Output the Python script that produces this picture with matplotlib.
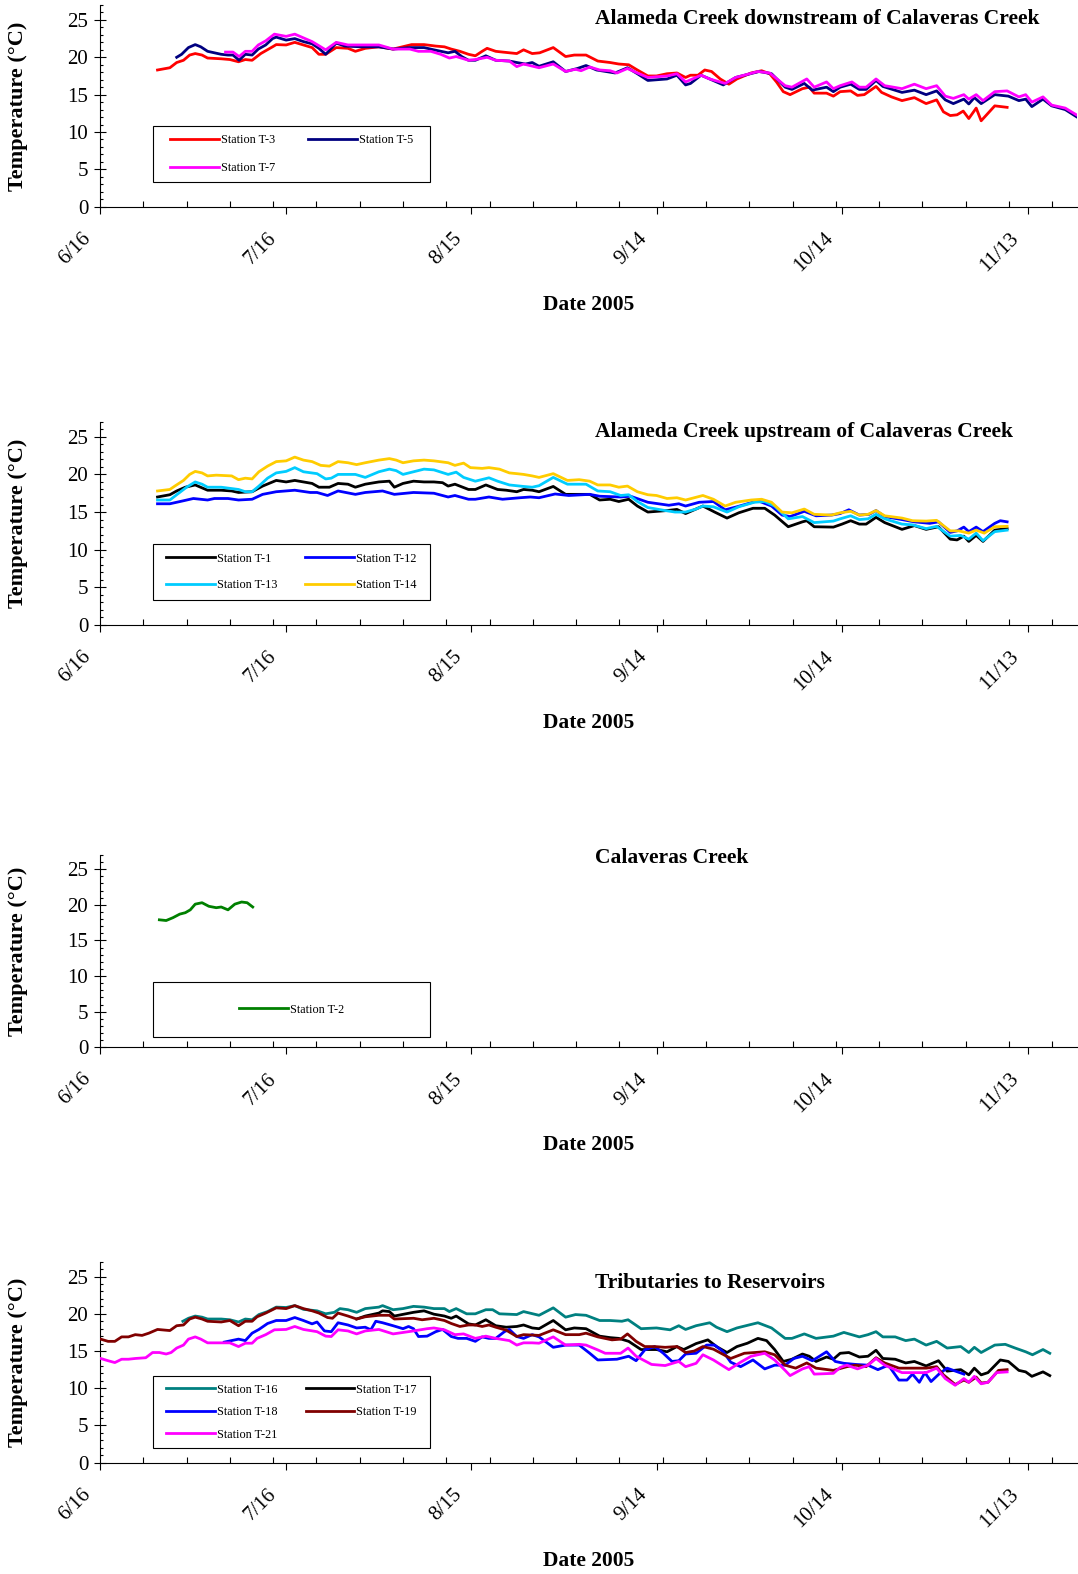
import datetime as dt
import matplotlib
matplotlib.use("Agg")
import matplotlib.pyplot as plt
from matplotlib.patches import Rectangle
from matplotlib.ticker import FixedLocator, MultipleLocator
from matplotlib.transforms import ScaledTranslation

plt.rcParams['font.family'] = 'serif'
plt.rcParams['font.serif'] = ['Liberation Serif', 'DejaVu Serif']

# day offsets from 6/16/2005, temperature in deg C
start_date = dt.date(2005, 6, 16)
major_days = [0, 30, 60, 90, 120, 150]

# --- Alameda Creek downstream of Calaveras Creek ---
t3 = [(9.3, 18.3), (11.3, 18.6), (12.4, 19.3), (13.5, 19.6), (14.5, 20.3), (15.4, 20.5), (16.5, 20.3),
      (17.4, 19.9), (19.6, 19.8), (21.0, 19.7), (22.4, 19.4), (23.5, 19.7), (24.6, 19.6), (26.0, 20.5),
      (27.9, 21.4), (28.5, 21.7), (30.1, 21.65), (31.5, 22.0), (32.9, 21.65), (34.3, 21.3), (35.4, 20.4),
      (36.5, 20.4), (38.2, 21.3), (40.1, 21.2), (41.3, 20.8), (42.9, 21.2), (45.1, 21.4), (47.4, 21.1),
      (50.4, 21.7), (52.4, 21.7), (54.3, 21.5), (55.7, 21.4), (56.8, 21.1), (58.2, 20.8), (59.6, 20.4),
      (60.7, 20.2), (61.8, 20.8), (62.6, 21.2), (64.0, 20.8), (65.1, 20.7), (67.4, 20.5), (68.5, 21.0),
      (69.9, 20.5), (71.1, 20.6), (73.3, 21.3), (75.3, 20.1), (76.7, 20.3), (78.6, 20.3), (80.5, 19.5),
      (82.5, 19.3), (83.9, 19.1), (85.5, 19.0), (86.9, 18.3), (88.6, 17.5), (90.0, 17.5), (91.7, 17.8),
      (93.3, 17.9), (94.7, 17.3), (95.5, 17.6), (96.7, 17.6), (97.8, 18.3), (98.9, 18.1), (100.3, 17.1),
      (101.7, 16.4), (103.0, 17.1), (105.3, 17.9), (107.0, 18.2), (108.3, 17.8), (109.4, 16.7), (110.5, 15.4),
      (111.6, 15.0), (113.6, 15.8), (114.7, 16.0), (115.5, 15.2), (117.5, 15.2), (118.6, 14.8), (119.7, 15.4),
      (121.4, 15.5), (122.5, 14.9), (123.6, 15.0), (125.5, 16.1), (126.4, 15.3), (128.0, 14.7), (129.7, 14.2),
      (131.7, 14.6), (133.6, 13.8), (135.3, 14.3), (136.4, 12.7), (137.5, 12.2), (138.6, 12.3), (139.6, 12.8),
      (140.5, 11.8), (141.7, 13.2), (142.5, 11.5), (144.7, 13.5), (146.7, 13.3)]
t5 = [(12.4, 20.0), (13.2, 20.4), (14.3, 21.3), (15.4, 21.7), (16.3, 21.4), (17.4, 20.8), (18.5, 20.6),
      (19.6, 20.4), (20.7, 20.3), (21.5, 20.3), (22.5, 19.6), (23.5, 20.4), (24.6, 20.3), (25.6, 21.1),
      (26.8, 21.65), (27.9, 22.5), (28.5, 22.7), (30.1, 22.3), (31.5, 22.5), (32.9, 22.1), (34.3, 21.8),
      (35.4, 21.2), (36.5, 20.4), (38.2, 21.9), (39.6, 21.5), (42.4, 21.4), (45.1, 21.4), (47.4, 21.1),
      (50.1, 21.3), (52.4, 21.3), (54.0, 21.0), (56.3, 20.6), (57.4, 20.8), (58.5, 20.1), (59.6, 19.6),
      (60.7, 19.6), (62.4, 20.2), (64.0, 19.6), (66.2, 19.5), (67.4, 19.3), (68.8, 19.1), (69.9, 19.3),
      (71.0, 18.8), (73.3, 19.4), (75.3, 18.1), (77.2, 18.5), (78.6, 18.9), (80.3, 18.3), (83.3, 17.9),
      (85.3, 18.6), (86.9, 17.8), (88.6, 16.9), (91.7, 17.1), (93.3, 17.6), (94.7, 16.3), (95.5, 16.5),
      (97.2, 17.6), (98.6, 17.1), (100.8, 16.3), (102.8, 17.3), (106.6, 18.1), (108.6, 17.8), (110.8, 16.0),
      (111.9, 15.7), (113.9, 16.5), (115.2, 15.6), (117.5, 16.0), (118.6, 15.4), (119.7, 16.0), (121.4, 16.4),
      (122.8, 15.7), (123.9, 15.7), (125.5, 16.9), (126.6, 16.1), (129.7, 15.3), (131.7, 15.6), (133.6, 15.0),
      (135.3, 15.5), (136.7, 14.3), (138.0, 13.8), (139.7, 14.4), (140.5, 13.75), (141.4, 14.6), (142.5, 13.8),
      (144.7, 15.0), (146.9, 14.8), (148.6, 14.2), (149.7, 14.4), (150.7, 13.4), (152.5, 14.4), (153.9, 13.5),
      (156.1, 13.0), (157.9, 12.05)]
t7 = [(20.3, 20.7), (21.5, 20.7), (22.5, 20.1), (23.5, 20.8), (24.6, 20.8), (25.6, 21.65), (26.8, 22.2),
      (28.2, 23.1), (30.1, 22.8), (31.5, 23.1), (32.9, 22.6), (34.3, 22.1), (36.5, 21.0), (38.2, 22.0),
      (40.1, 21.65), (42.9, 21.65), (45.1, 21.65), (47.4, 21.1), (50.1, 21.1), (51.5, 20.8), (53.5, 20.8),
      (55.1, 20.4), (56.5, 19.9), (57.6, 20.1), (59.6, 19.6), (60.7, 19.7), (62.6, 20.0), (64.0, 19.6),
      (66.2, 19.5), (67.4, 18.75), (68.5, 19.1), (71.0, 18.6), (73.3, 19.1), (75.3, 18.1), (76.9, 18.4),
      (77.8, 18.2), (79.2, 18.7), (80.8, 18.3), (82.5, 18.2), (83.6, 17.9), (85.3, 18.5), (86.9, 17.9),
      (88.6, 17.3), (91.7, 17.5), (93.3, 17.8), (94.7, 16.7), (97.2, 17.6), (98.6, 17.1), (101.1, 16.5),
      (102.8, 17.3), (106.4, 18.1), (108.3, 17.9), (110.8, 16.2), (111.9, 16.0), (114.3, 17.1), (115.5, 16.0),
      (117.5, 16.7), (118.6, 15.8), (119.7, 16.2), (121.6, 16.7), (122.8, 16.0), (123.9, 16.0), (125.5, 17.1),
      (126.9, 16.2), (129.7, 15.8), (131.7, 16.4), (133.6, 15.8), (135.3, 16.2), (136.7, 14.8), (138.0, 14.5),
      (139.7, 15.0), (140.5, 14.4), (141.7, 15.0), (142.8, 14.2), (144.7, 15.4), (146.7, 15.5), (148.6, 14.7),
      (149.7, 15.0), (150.7, 14.0), (152.5, 14.7), (153.9, 13.6), (156.1, 13.2), (157.9, 12.3)]

# --- Alameda Creek upstream of Calaveras Creek ---
t1 = [(9.3, 17.0), (11.3, 17.3), (12.4, 17.8), (13.8, 18.3), (15.4, 18.6), (17.4, 17.9), (19.6, 17.9),
      (21.3, 17.8), (22.4, 17.6), (24.6, 17.7), (26.3, 18.45), (28.5, 19.2), (30.1, 19.0), (31.5, 19.2),
      (32.9, 19.0), (34.3, 18.8), (35.4, 18.3), (37.1, 18.3), (38.5, 18.8), (40.1, 18.7), (41.3, 18.3),
      (42.9, 18.7), (45.1, 19.0), (46.8, 19.1), (47.6, 18.3), (49.0, 18.8), (50.7, 19.1), (52.4, 19.0),
      (54.0, 19.0), (55.4, 18.9), (56.3, 18.45), (57.4, 18.7), (59.6, 18.0), (60.7, 18.0), (62.4, 18.6),
      (64.3, 18.0), (65.7, 17.9), (67.4, 17.7), (68.5, 18.0), (69.9, 17.9), (71.0, 17.7), (73.3, 18.4),
      (75.3, 17.35), (79.2, 17.35), (80.8, 16.6), (82.5, 16.7), (83.9, 16.4), (85.5, 16.7), (86.9, 15.8),
      (88.6, 15.0), (91.7, 15.2), (93.3, 15.35), (94.7, 14.8), (97.5, 15.8), (99.4, 15.0), (101.4, 14.2),
      (103.3, 14.9), (105.6, 15.5), (107.5, 15.5), (109.1, 14.6), (111.3, 13.05), (113.6, 13.7), (114.3, 13.85),
      (115.5, 13.05), (118.6, 13.0), (120.0, 13.4), (121.4, 13.85), (122.8, 13.4), (123.9, 13.4), (125.5, 14.3),
      (126.9, 13.6), (129.7, 12.7), (131.7, 13.2), (133.6, 12.7), (135.6, 13.05), (137.5, 11.4), (138.6, 11.3),
      (139.7, 11.8), (140.5, 11.1), (141.7, 11.9), (142.8, 11.1), (144.7, 12.6), (146.7, 12.8)]
t12 = [(9.3, 16.1), (11.3, 16.1), (13.5, 16.5), (15.1, 16.8), (17.4, 16.6), (18.5, 16.8), (20.7, 16.8),
       (22.4, 16.6), (24.6, 16.7), (26.3, 17.35), (28.5, 17.7), (31.5, 17.9), (34.0, 17.6), (35.1, 17.6),
       (36.8, 17.2), (38.5, 17.8), (41.3, 17.35), (42.9, 17.6), (45.7, 17.8), (47.6, 17.35), (50.7, 17.6),
       (54.0, 17.5), (56.3, 17.0), (57.4, 17.2), (59.6, 16.7), (60.7, 16.7), (62.9, 17.0), (65.1, 16.7),
       (67.9, 16.9), (69.6, 17.0), (71.0, 16.9), (73.6, 17.4), (75.8, 17.2), (79.2, 17.35), (80.8, 17.1),
       (84.2, 17.0), (85.8, 17.1), (88.6, 16.3), (92.0, 15.9), (93.6, 16.1), (94.7, 15.8), (96.9, 16.3),
       (99.2, 16.4), (101.1, 15.3), (103.0, 15.7), (106.4, 16.5), (108.6, 15.8), (110.3, 14.6), (111.6, 14.4),
       (113.9, 15.1), (115.8, 14.5), (118.3, 14.6), (119.7, 14.8), (121.1, 15.3), (122.8, 14.6), (124.4, 14.7),
       (125.5, 15.2), (126.9, 14.4), (129.7, 14.0), (131.7, 13.7), (134.2, 13.5), (135.6, 13.7), (137.5, 12.3),
       (138.6, 12.5), (139.7, 13.0), (140.5, 12.4), (141.7, 13.0), (142.8, 12.4), (144.7, 13.5), (145.6, 13.85),
       (146.7, 13.7)]
t13 = [(9.3, 16.6), (11.3, 16.6), (12.4, 17.3), (14.0, 18.3), (15.4, 19.0), (16.5, 18.7), (17.4, 18.3),
       (19.6, 18.3), (22.4, 18.0), (23.5, 17.7), (24.6, 17.7), (25.7, 18.45), (27.1, 19.5), (28.5, 20.2),
       (30.1, 20.4), (31.5, 20.9), (32.9, 20.35), (35.1, 20.1), (36.5, 19.4), (37.4, 19.5), (38.5, 20.0),
       (40.1, 20.0), (41.3, 20.0), (42.9, 19.6), (45.1, 20.35), (46.8, 20.7), (47.9, 20.5), (49.0, 20.0),
       (50.7, 20.35), (52.4, 20.7), (54.0, 20.6), (56.3, 20.0), (57.6, 20.3), (58.8, 19.6), (60.7, 19.1),
       (62.9, 19.55), (64.3, 19.1), (66.2, 18.6), (68.5, 18.4), (69.9, 18.3), (71.0, 18.5), (73.3, 19.6),
       (75.6, 18.7), (78.6, 18.7), (80.5, 17.8), (82.5, 17.7), (84.2, 17.2), (85.5, 17.3), (86.9, 16.4),
       (88.6, 15.6), (91.4, 15.2), (93.0, 15.0), (94.7, 15.0), (96.4, 15.4), (97.5, 15.8), (99.2, 15.7),
       (101.4, 15.0), (103.3, 15.7), (105.8, 16.3), (107.5, 16.4), (109.1, 15.8), (111.3, 14.1), (113.6, 14.4),
       (115.5, 13.6), (118.6, 13.8), (119.7, 14.1), (121.4, 14.5), (122.8, 14.0), (124.2, 14.1), (125.5, 14.7),
       (126.9, 14.1), (129.7, 13.4), (131.4, 13.3), (133.6, 12.8), (135.3, 13.1), (137.5, 11.8), (139.2, 11.9),
       (140.5, 11.4), (141.7, 12.2), (142.8, 11.2), (144.7, 12.4), (146.7, 12.6)]
t14 = [(9.3, 17.8), (11.3, 18.0), (12.1, 18.45), (13.5, 19.2), (14.5, 20.0), (15.4, 20.4), (16.5, 20.2),
       (17.4, 19.8), (18.8, 19.9), (21.3, 19.8), (22.4, 19.3), (23.5, 19.5), (24.6, 19.4), (25.7, 20.35),
       (27.1, 21.1), (28.5, 21.7), (30.1, 21.8), (31.5, 22.3), (32.9, 21.9), (34.3, 21.7), (35.7, 21.2),
       (37.1, 21.1), (38.5, 21.7), (40.1, 21.55), (41.5, 21.3), (42.9, 21.55), (45.1, 21.9), (46.8, 22.1),
       (47.9, 21.9), (49.0, 21.55), (50.7, 21.8), (52.4, 21.9), (54.0, 21.8), (56.3, 21.55), (57.4, 21.2),
       (58.8, 21.5), (59.9, 20.9), (61.8, 20.8), (62.9, 20.9), (64.6, 20.7), (66.2, 20.2), (67.4, 20.1),
       (68.5, 20.0), (69.9, 19.8), (71.0, 19.6), (73.3, 20.1), (75.6, 19.2), (77.5, 19.3), (79.2, 19.1),
       (80.5, 18.6), (82.5, 18.6), (83.9, 18.3), (85.3, 18.45), (86.9, 17.7), (88.6, 17.3), (90.0, 17.2),
       (91.7, 16.8), (93.3, 16.9), (94.7, 16.6), (96.1, 16.9), (97.5, 17.2), (99.2, 16.7), (101.1, 15.8),
       (102.8, 16.3), (105.3, 16.6), (107.0, 16.7), (108.6, 16.3), (110.3, 15.0), (111.9, 14.9), (113.9, 15.4),
       (115.5, 14.7), (118.3, 14.6), (119.7, 14.9), (121.4, 15.1), (122.8, 14.6), (124.2, 14.7), (125.5, 15.2),
       (126.9, 14.5), (129.7, 14.2), (131.4, 13.85), (133.6, 13.8), (135.3, 13.9), (137.5, 12.5), (138.9, 12.5),
       (140.5, 12.2), (141.7, 12.6), (143.0, 12.2), (144.7, 13.05), (146.7, 13.1)]

# --- Calaveras Creek ---
t2 = [(9.6, 17.9), (10.7, 17.8), (11.8, 18.2), (12.9, 18.7), (13.8, 18.9), (14.6, 19.3), (15.4, 20.1),
      (16.5, 20.3), (17.6, 19.8), (18.8, 19.6), (19.6, 19.7), (20.7, 19.3), (21.8, 20.1), (22.9, 20.4),
      (23.8, 20.3), (24.7, 19.7)]

# --- Tributaries to Reservoirs ---
t16 = [(13.4, 19.0), (14.3, 19.4), (15.4, 19.7), (16.5, 19.55), (17.4, 19.3), (19.6, 19.3), (21.0, 19.2),
       (22.4, 18.9), (23.5, 19.3), (24.6, 19.2), (25.7, 19.9), (27.1, 20.3), (28.5, 20.9), (30.1, 20.85),
       (31.5, 21.1), (32.9, 20.6), (35.1, 20.4), (36.5, 20.0), (37.9, 20.2), (38.8, 20.7), (40.1, 20.55),
       (41.5, 20.2), (42.9, 20.7), (45.1, 20.9), (45.7, 21.1), (47.4, 20.55), (49.0, 20.7), (50.7, 21.0),
       (52.4, 20.9), (54.0, 20.7), (55.7, 20.7), (56.5, 20.3), (57.6, 20.7), (59.3, 20.0), (60.7, 20.0),
       (62.4, 20.55), (63.5, 20.55), (64.6, 20.0), (67.4, 19.9), (68.5, 20.3), (71.0, 19.8), (73.3, 20.8),
       (75.3, 19.55), (76.9, 19.9), (78.6, 19.8), (80.8, 19.1), (82.5, 19.1), (84.4, 19.0), (85.4, 19.2),
       (87.5, 18.0), (90.0, 18.1), (92.2, 17.85), (93.6, 18.4), (94.7, 17.9), (96.4, 18.4), (98.6, 18.8),
       (99.7, 18.2), (101.4, 17.6), (103.0, 18.1), (106.4, 18.8), (108.6, 18.1), (110.8, 16.7), (111.9, 16.7),
       (113.9, 17.3), (115.8, 16.7), (118.6, 17.0), (120.3, 17.5), (122.8, 16.9), (124.2, 17.2), (125.5, 17.6),
       (126.6, 16.9), (128.6, 16.9), (130.3, 16.4), (131.7, 16.6), (133.6, 15.8), (135.3, 16.3), (137.0, 15.4),
       (139.2, 15.6), (140.5, 14.8), (141.4, 15.5), (142.5, 14.8), (144.7, 15.8), (146.4, 15.9), (148.0, 15.4),
       (149.7, 14.9), (150.8, 14.5), (152.5, 15.2), (153.6, 14.7)]
t17 = [(41.5, 19.3), (42.9, 19.7), (45.1, 20.1), (45.7, 20.4), (46.8, 20.3), (47.6, 19.7), (50.7, 20.2),
       (52.4, 20.4), (54.0, 19.95), (55.7, 19.7), (56.8, 19.4), (57.6, 19.7), (59.6, 18.65), (60.7, 18.5),
       (62.4, 19.2), (64.0, 18.4), (65.7, 18.2), (67.4, 18.3), (68.5, 18.5), (69.9, 18.1), (71.0, 18.0),
       (73.3, 19.1), (75.3, 17.85), (76.7, 18.1), (78.6, 18.0), (80.8, 17.0), (82.5, 16.8), (83.9, 16.7),
       (85.5, 16.3), (87.5, 15.2), (90.0, 15.2), (91.7, 14.9), (93.3, 15.6), (94.4, 15.2), (96.4, 16.0),
       (98.3, 16.5), (99.7, 15.6), (101.4, 14.8), (103.0, 15.6), (104.7, 16.05), (106.4, 16.7), (107.8, 16.4),
       (109.1, 15.2), (110.5, 13.6), (111.9, 13.9), (113.6, 14.6), (114.7, 14.3), (115.8, 13.6), (117.5, 14.2),
       (118.6, 13.9), (119.7, 14.7), (121.1, 14.8), (122.8, 14.2), (124.2, 14.3), (125.5, 15.1), (126.6, 14.0),
       (128.6, 13.9), (130.3, 13.4), (131.7, 13.6), (133.6, 13.0), (135.6, 13.7), (137.0, 12.3), (139.2, 12.5),
       (140.5, 11.8), (141.4, 12.7), (142.5, 11.8), (143.6, 12.1), (145.6, 13.8), (146.9, 13.6), (148.6, 12.4),
       (149.7, 12.2), (150.7, 11.6), (152.5, 12.2), (153.6, 11.7)]
t18 = [(20.1, 16.2), (22.4, 16.6), (23.5, 16.4), (24.6, 17.4), (25.7, 17.9), (27.1, 18.7), (28.5, 19.1),
       (30.1, 19.1), (31.5, 19.5), (32.9, 19.1), (34.3, 18.65), (35.1, 18.9), (36.3, 17.7), (37.4, 17.6),
       (38.5, 18.8), (40.1, 18.5), (41.5, 18.1), (42.9, 18.2), (43.8, 17.85), (44.6, 19.0), (45.7, 18.8),
       (47.4, 18.4), (49.0, 18.0), (49.9, 18.3), (50.7, 18.0), (51.5, 16.95), (52.9, 17.0), (54.3, 17.6),
       (55.4, 17.9), (56.8, 16.95), (57.9, 16.7), (59.3, 16.7), (60.7, 16.3), (61.8, 16.9), (62.9, 16.7),
       (64.0, 16.7), (65.4, 17.6), (66.2, 17.9), (67.4, 16.95), (68.5, 16.7), (69.9, 17.2), (71.0, 16.9),
       (73.3, 15.5), (75.3, 15.8), (77.5, 15.8), (79.2, 14.7), (80.5, 13.8), (83.6, 13.9), (85.5, 14.3),
       (86.7, 13.7), (88.1, 15.15), (89.7, 15.6), (91.1, 14.7), (92.5, 13.6), (93.6, 13.7), (94.7, 14.6),
       (96.4, 14.7), (98.1, 15.8), (99.4, 15.8), (100.8, 14.9), (102.0, 13.5), (103.6, 12.9), (105.6, 13.8),
       (107.5, 12.6), (109.1, 13.1), (110.8, 13.1), (112.2, 14.0), (113.6, 14.3), (115.2, 13.7), (117.5, 14.9),
       (118.9, 13.6), (120.3, 13.35), (122.2, 13.2), (124.2, 13.1), (125.8, 12.5), (127.5, 13.1), (129.2, 11.1),
       (130.5, 11.1), (131.4, 11.9), (132.5, 10.8), (133.4, 12.1), (134.4, 10.9), (135.8, 12.0), (137.0, 12.7),
       (139.7, 11.9)]
t19 = [(0.1, 16.6), (1.3, 16.3), (2.4, 16.3), (3.5, 16.9), (4.6, 16.9), (5.7, 17.2), (6.8, 17.1), (7.9, 17.4),
       (9.3, 17.9), (11.3, 17.75), (12.4, 18.4), (13.5, 18.5), (14.5, 19.3), (15.4, 19.55), (16.5, 19.3),
       (17.4, 19.0), (19.6, 18.9), (21.0, 19.1), (22.4, 18.4), (23.5, 19.0), (24.6, 19.0), (25.4, 19.6),
       (26.8, 20.1), (28.5, 20.8), (30.1, 20.7), (31.5, 21.1), (32.9, 20.7), (34.3, 20.4), (35.4, 20.1),
       (36.8, 19.5), (37.6, 19.4), (38.5, 20.1), (40.1, 19.7), (41.5, 19.3), (42.9, 19.6), (45.1, 19.8),
       (46.8, 19.8), (47.6, 19.3), (50.7, 19.4), (52.1, 19.2), (54.0, 19.4), (55.7, 19.1), (56.8, 18.7),
       (58.2, 18.3), (59.6, 18.5), (60.7, 18.5), (61.8, 18.3), (62.9, 18.5), (64.0, 18.2), (65.7, 17.8),
       (67.4, 16.95), (68.5, 17.2), (71.0, 17.1), (73.3, 17.85), (75.3, 17.2), (77.5, 17.2), (78.6, 17.4),
       (80.5, 16.9), (82.8, 16.5), (84.2, 16.6), (85.3, 17.3), (86.7, 16.3), (88.1, 15.6), (89.7, 15.6),
       (91.4, 15.5), (93.3, 15.6), (94.7, 14.8), (96.1, 15.0), (97.5, 15.6), (99.2, 15.25), (102.0, 14.0),
       (104.2, 14.7), (107.5, 14.9), (109.1, 14.5), (110.8, 13.1), (112.5, 12.7), (114.3, 13.4), (115.8, 12.7),
       (118.6, 12.4), (120.8, 12.9), (122.2, 13.1), (123.9, 12.9), (125.5, 14.1), (126.9, 13.4), (129.2, 12.7),
       (131.4, 12.7), (133.6, 12.7), (135.3, 12.9), (136.4, 11.8), (138.3, 10.5), (139.7, 11.1), (140.5, 10.8),
       (141.7, 11.5), (142.5, 10.7), (143.6, 10.8), (145.3, 12.4), (146.7, 12.5)]
t21 = [(0.1, 14.0), (1.3, 13.7), (2.4, 13.45), (3.5, 13.9), (4.6, 13.9), (5.7, 14.0), (7.4, 14.1), (8.5, 14.8),
       (9.6, 14.8), (10.7, 14.6), (11.5, 14.8), (12.4, 15.4), (13.5, 15.8), (14.3, 16.6), (15.4, 16.9),
       (16.3, 16.6), (17.4, 16.1), (19.6, 16.1), (21.0, 16.1), (22.4, 15.6), (23.5, 16.05), (24.6, 16.05),
       (25.4, 16.7), (26.8, 17.2), (28.2, 17.85), (30.1, 17.9), (31.5, 18.3), (32.9, 17.9), (35.1, 17.6),
       (36.5, 17.0), (37.4, 16.95), (38.5, 17.85), (40.1, 17.7), (41.5, 17.3), (42.9, 17.7), (45.1, 17.9),
       (47.4, 17.3), (50.7, 17.7), (52.9, 18.0), (54.0, 18.1), (55.7, 17.85), (57.4, 17.2), (58.8, 17.3),
       (60.7, 16.7), (62.4, 17.0), (64.0, 16.7), (66.2, 16.4), (67.4, 15.8), (68.5, 16.1), (69.9, 16.1),
       (71.0, 16.05), (73.3, 16.9), (75.3, 15.8), (77.5, 15.9), (78.6, 15.8), (80.5, 15.15), (81.7, 14.7),
       (84.2, 14.7), (85.4, 15.4), (86.7, 14.3), (89.2, 13.2), (91.4, 13.05), (93.6, 13.6), (94.7, 12.9),
       (96.4, 13.35), (97.5, 14.5), (99.2, 13.8), (101.7, 12.5), (103.6, 13.5), (105.3, 14.3), (107.5, 14.7),
       (109.1, 13.8), (110.8, 12.4), (111.6, 11.7), (113.6, 12.6), (114.7, 12.9), (115.5, 11.9), (118.6, 12.0),
       (119.7, 12.8), (120.8, 13.1), (122.5, 12.6), (124.2, 13.1), (125.5, 14.0), (126.9, 13.1), (129.7, 12.1),
       (131.4, 12.1), (133.6, 12.1), (135.3, 12.7), (136.7, 11.3), (138.3, 10.4), (139.7, 11.3), (140.5, 10.8),
       (141.4, 11.6), (142.5, 10.6), (143.6, 10.8), (145.0, 12.1), (146.7, 12.2)]

# panels: title, series (legend order = column-wise fill), colors
panels = [
    ('Alameda Creek downstream of Calaveras Creek',
     [('Station T-3', t3, '#FF0000'), ('Station T-7', t7, '#FF00FF'), ('Station T-5', t5, '#000080')]),
    ('Alameda Creek upstream of Calaveras Creek',
     [('Station T-1', t1, '#000000'), ('Station T-13', t13, '#00CCFF'),
      ('Station T-12', t12, '#0000FF'), ('Station T-14', t14, '#FFCC00')]),
    ('Calaveras Creek', [('Station T-2', t2, '#008000')]),
    ('Tributaries to Reservoirs',
     [('Station T-16', t16, '#008080'), ('Station T-18', t18, '#0000FF'), ('Station T-21', t21, '#FF00FF'),
      ('Station T-17', t17, '#000000'), ('Station T-19', t19, '#800000')]),
]
draw_order = [
    ['Station T-3', 'Station T-5', 'Station T-7'],
    ['Station T-1', 'Station T-12', 'Station T-13', 'Station T-14'],
    ['Station T-2'],
    ['Station T-16', 'Station T-17', 'Station T-18', 'Station T-19', 'Station T-21'],
]

# layout in pixels (top, bottom of each axes)
W, H = 1078, 1574
ax_left, ax_right = 100, 1077
rows = [(5, 206.7), (421.7, 625), (855, 1047.3), (1261.7, 1462.7)]
title_y = [0.932, 0.948, 0.982, 0.892]
legend_box = [(0.054, 0.122, 0.284, 0.278), (0.054, 0.123, 0.284, 0.275),
              (0.054, 0.052, 0.284, 0.289), (0.054, 0.072, 0.284, 0.359)]
legend_gap = [1.32, 1.22, 1.0, 0.85]
legend_colsp = [2.7, 2.3, 2.3, 2.3]

fig = plt.figure(figsize=(W / 100, H / 100), dpi=100)

for i, (title, series) in enumerate(panels):
    top, bot = rows[i]
    hpx = bot - top
    ax = fig.add_axes([ax_left / W, 1 - bot / H, (ax_right - ax_left) / W, hpx / H])

    handles = {}
    for name, pts, col in series:
        d, v = zip(*pts)
        ln, = ax.plot(d, v, color=col, lw=2, label=name, solid_joinstyle='round')
        handles[name] = ln
    # later stations drawn on top, as in the original
    for z, name in enumerate(draw_order[i]):
        handles[name].set_zorder(2 + z)

    ax.set_xlim(0, 158)
    ax.set_ylim(0, 27)
    for s in ['top', 'right']:
        ax.spines[s].set_visible(False)
    for s in ['left', 'bottom']:
        ax.spines[s].set_linewidth(0.8)

    ax.xaxis.set_major_locator(FixedLocator(major_days))
    ax.set_xticklabels([(start_date + dt.timedelta(days=k)).strftime('%m/%d').lstrip('0').replace('/0', '/')
                        for k in major_days], rotation=45, ha='right')
    ax.xaxis.set_minor_locator(MultipleLocator(7))
    ax.yaxis.set_major_locator(MultipleLocator(5))
    ax.yaxis.set_minor_locator(MultipleLocator(1))

    ax.tick_params(axis='x', which='major', direction='out', length=5, width=0.8, pad=11, labelsize=15)
    ax.tick_params(axis='x', which='minor', direction='in', length=4, width=0.8)
    ax.tick_params(axis='y', which='major', direction='inout', length=9, width=0.8, pad=4, labelsize=15)
    ax.tick_params(axis='y', which='minor', direction='in', length=2.5, width=0.8)
    for lbl in ax.get_xticklabels():
        lbl.set_transform(lbl.get_transform() + ScaledTranslation(-0.05, 0, fig.dpi_scale_trans))

    ax.set_ylabel('Temperature (°C)', fontsize=16, fontweight='bold')
    ax.yaxis.set_label_coords(-(ax_left - 28) / (ax_right - ax_left), 0.5)
    ax.set_xlabel('Date 2005', fontsize=15.5, fontweight='bold', va='top')
    ax.xaxis.set_label_coords(0.5, -88 / hpx)

    ax.text(0.5066, title_y[i], title, transform=ax.transAxes, fontsize=15.5,
            fontweight='bold', ha='left', va='center')

    x0, y0, bw, bh = legend_box[i]
    ax.add_patch(Rectangle((x0, y0), bw, bh, transform=ax.transAxes, fill=False,
                           ec='black', lw=0.8, clip_on=False, zorder=10))
    ax.legend(handles=[handles[n] for n, _, _ in series], loc='center',
              bbox_to_anchor=(x0, y0, bw, bh), bbox_transform=ax.transAxes,
              ncol=2 if len(series) > 1 else 1, frameon=False, borderaxespad=0,
              prop={'size': 8.8}, handlelength=4.0, handletextpad=0.15,
              columnspacing=legend_colsp[i], labelspacing=legend_gap[i])

fig.savefig('out.png', dpi=100)
